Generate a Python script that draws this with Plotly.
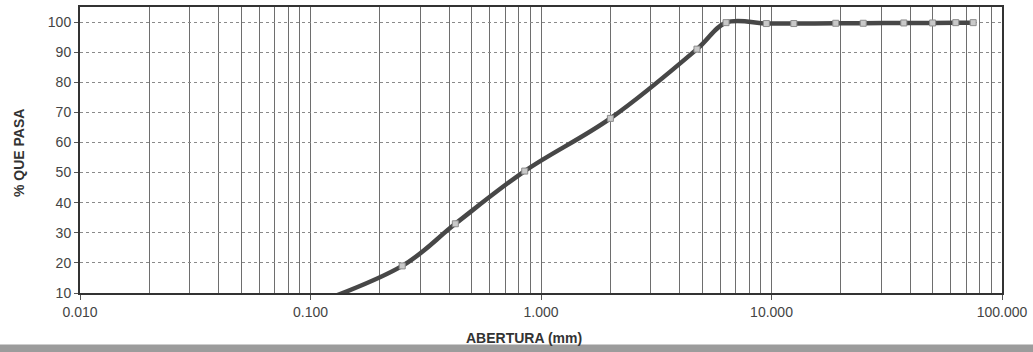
import plotly.graph_objects as go

# Curva granulométrica: abertura del tamiz (mm) y porcentaje que pasa
abertura_mm = [0.075, 0.25, 0.425, 0.85, 2.00, 4.75, 6.35, 9.50, 12.50,
               19.00, 25.00, 37.50, 50.00, 63.00, 75.00]
pct_pasa = [2.5, 19.0, 33.0, 50.5, 68.0, 91.0, 99.8, 99.5, 99.5,
            99.6, 99.6, 99.7, 99.7, 99.8, 99.8]

x_major = [0.01, 0.1, 1, 10, 100]
x_major_text = ["0.010", "0.100", "1.000", "10.000", "100.000"]
x_minor = [m * d for d in (0.01, 0.1, 1, 10) for m in range(2, 10)]
y_ticks = list(range(10, 101, 10))

FONT = "Liberation Sans, Arial, sans-serif"

fig = go.Figure()
fig.add_trace(go.Scatter(
    x=abertura_mm, y=pct_pasa, mode="lines+markers",
    line=dict(color="#474747", width=4.5, shape="spline", smoothing=1.0),
    marker=dict(symbol="square", size=6, color="#c9c9c9",
                line=dict(color="#8c8c8c", width=1)),
    showlegend=False,
))

fig.update_xaxes(
    type="log", range=[-2, 2],
    tickmode="array", tickvals=x_major, ticktext=x_major_text,
    ticks="outside", ticklen=5, tickcolor="#555", tickwidth=1,
    tickfont=dict(family=FONT, size=14, color="#444"),
    showgrid=True, gridcolor="#6e6e6e", gridwidth=1,
    minor=dict(tickvals=x_minor, showgrid=True, gridcolor="#6e6e6e",
               gridwidth=1, ticks=""),
    showline=True, linecolor="#333", linewidth=2, mirror=True,
    zeroline=False,
)
fig.update_yaxes(
    range=[10, 105], tickmode="array", tickvals=y_ticks,
    ticks="outside", ticklen=4, tickcolor="#555", tickwidth=1,
    tickfont=dict(family=FONT, size=14, color="#444"),
    showgrid=True, gridcolor="#8a8a8a", gridwidth=1, griddash="dot",
    showline=True, linecolor="#333", linewidth=2, mirror=True,
    zeroline=False,
)

fig.add_annotation(
    text="ABERTURA (mm)", xref="paper", yref="paper",
    x=0.482, y=-0.156, xanchor="center", yanchor="middle", showarrow=False,
    font=dict(family=FONT, size=14, color="#333", weight="bold"),
)
fig.add_annotation(
    text="% QUE PASA", xref="paper", yref="paper", textangle=-90,
    x=-0.066, y=0.49, xanchor="center", yanchor="middle", showarrow=False,
    font=dict(family=FONT, size=14, color="#333", weight="bold"),
)

# sombra del borde de la hoja al pie
fig.add_shape(type="rect", xref="paper", yref="paper",
              x0=-0.1, x1=1.1, y0=-0.21, y1=-0.18,
              fillcolor="#9c9c9c", line=dict(width=0), layer="below")

fig.update_layout(
    width=1033, height=352,
    margin=dict(l=80, r=30, t=5, b=59),
    paper_bgcolor="white", plot_bgcolor="white",
)

fig.write_html("out.html")
